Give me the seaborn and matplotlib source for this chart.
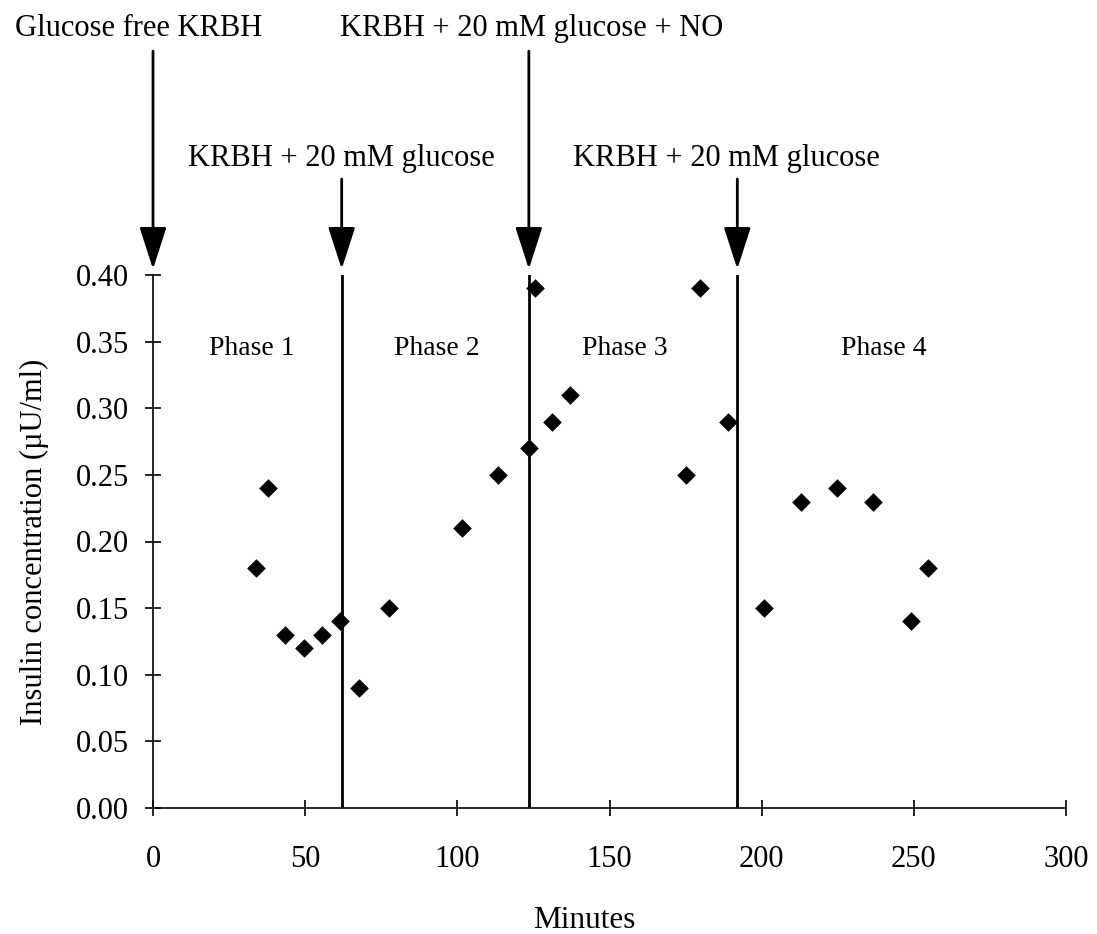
import matplotlib
matplotlib.use("Agg")
import matplotlib.pyplot as plt
import seaborn as sns
import pandas as pd

# ---- data ----
minutes = [33.8, 37.8, 43.4, 49.5, 55.6, 61.5, 67.6, 77.6, 101.5, 113.5, 123.5,
           125.5, 131.1, 137.0, 175.2, 179.8, 188.8, 200.8, 213.0, 224.8, 236.7,
           249.0, 254.8]
insulin = [0.18, 0.24, 0.13, 0.12, 0.13, 0.14, 0.09, 0.15, 0.21, 0.25, 0.27,
           0.39, 0.29, 0.31, 0.25, 0.39, 0.29, 0.15, 0.23, 0.24, 0.23, 0.14, 0.18]

event_minutes = [0, 62, 123.5, 192]
event_labels = ["Glucose free KRBH", "KRBH + 20 mM glucose",
                "KRBH + 20 mM glucose + NO", "KRBH + 20 mM glucose"]
phase_labels = ["Phase 1", "Phase 2", "Phase 3", "Phase 4"]
phase_label_x = [32.5, 93.3, 155.0, 240.0]

x_ticks = [0, 50, 100, 150, 200, 250, 300]
y_ticks = [0.00, 0.05, 0.10, 0.15, 0.20, 0.25, 0.30, 0.35, 0.40]

df = pd.DataFrame({"Minutes": minutes, "Insulin": insulin})

sns.set_theme(style="white")
plt.rcParams["font.family"] = ["Liberation Serif", "DejaVu Serif"]

fig = plt.figure(figsize=(10.97, 9.34), dpi=100)
ax = fig.add_axes([153 / 1097, 1 - 808 / 934, (1066 - 153) / 1097, (808 - 275) / 934])

sns.scatterplot(data=df, x="Minutes", y="Insulin", marker="D", s=90,
                color="black", edgecolor="black", linewidth=0, ax=ax, zorder=3)

ax.set_xlim(0, 300)
ax.set_ylim(0, 0.40)
ax.set_xticks(x_ticks)
ax.set_xticklabels([str(t) for t in x_ticks])
ax.set_yticks(y_ticks)
ax.set_yticklabels([f"{t:.2f}" for t in y_ticks])
ax.tick_params(axis="both", direction="inout", length=11, width=1.2,
               color="black", labelsize=22, labelcolor="black",
               bottom=True, left=True)
ax.tick_params(axis="x", pad=21)
ax.tick_params(axis="y", pad=12)
for side in ["top", "right"]:
    ax.spines[side].set_visible(False)
for side in ["left", "bottom"]:
    ax.spines[side].set_color("black")
    ax.spines[side].set_linewidth(1.2)

ax.set_xlabel("Minutes", fontsize=22.5, color="black")
ax.xaxis.set_label_coords((584 - 153) / (1066 - 153), -0.183)
ax.set_ylabel("Insulin concentration (\u00b5U/ml)", fontsize=22, labelpad=19, color="black")

# vertical phase boundaries
for xm in event_minutes[1:]:
    ax.axvline(xm, ymin=0, ymax=1, color="black", lw=2.0, zorder=2)

# arrows and labels
tip_y = 0.4045
long_start = 0.568
short_start = 0.472
starts = [long_start, short_start, long_start, short_start]
label_y = [0.585, 0.4875, 0.585, 0.4875]
label_dx = [-4.6, 0.0, 1.0, -3.5]
for xm, st, lab, ly, dx in zip(event_minutes, starts, event_labels, label_y, label_dx):
    ax.annotate("", xy=(xm, tip_y), xytext=(xm, st),
                arrowprops=dict(arrowstyle="-|>,head_length=1.3,head_width=0.42",
                                mutation_scale=20, color="black", lw=2.0,
                                shrinkA=0, shrinkB=0),
                annotation_clip=False)
    ax.text(xm + dx, ly, lab, ha="center", va="center",
            fontsize=22, color="black", clip_on=False)

for px, lab in zip(phase_label_x, phase_labels):
    ax.text(px, 0.345, lab, ha="center", va="center", fontsize=20, color="black")

fig.savefig("out.png", dpi=100, facecolor="white")
